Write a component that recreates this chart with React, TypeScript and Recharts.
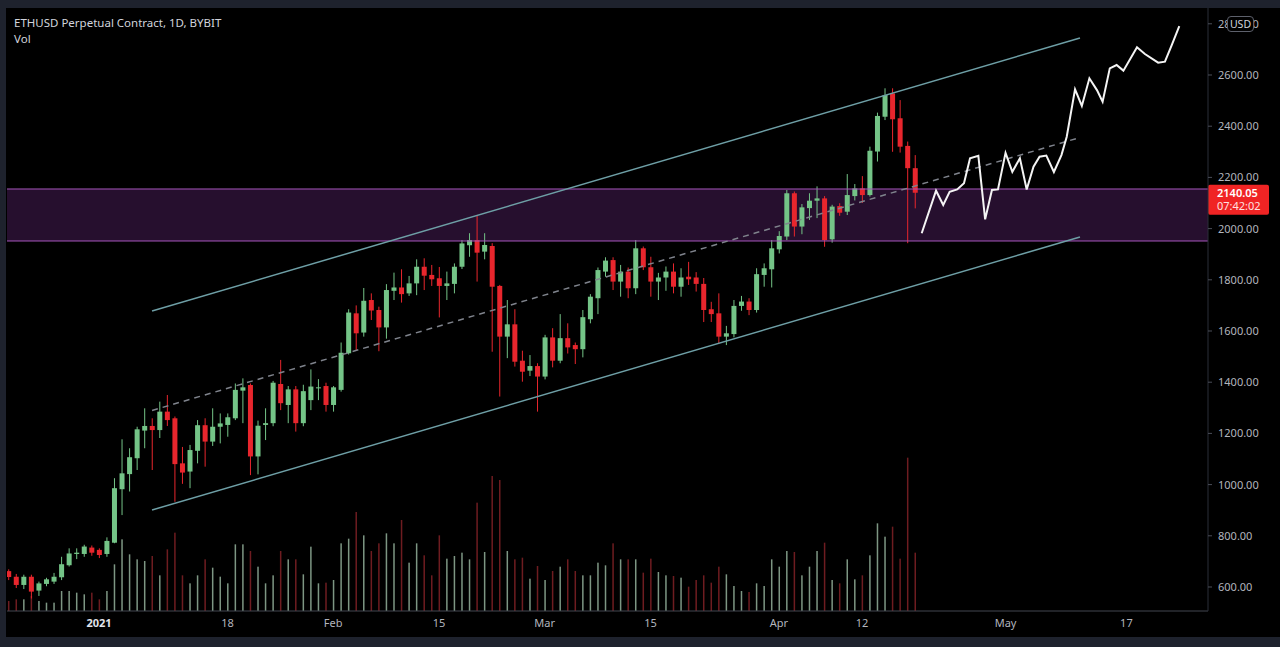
import { ComposedChart, Bar, Line, XAxis, YAxis, ReferenceLine, ReferenceArea } from 'recharts';

// day index 0 = 1 Jan 2021, candles start on 20 Dec 2020
const FIRST_DAY = -12;

const OPEN = [
  662, 640, 608, 640, 586, 612, 621, 638, 685, 729, 729, 754,
  745, 729, 773, 982, 1041, 1103, 1211, 1229, 1213, 1285, 1259, 1083, 1051, 1132, 1232, 1168, 1226, 1233,
  1259, 1367, 1389, 1110, 1233, 1240, 1393, 1311, 1372, 1240, 1330, 1376, 1385,
  1311, 1370, 1513, 1669, 1594, 1721, 1682, 1614, 1757, 1770, 1747, 1786, 1851, 1819,
  1806, 1776, 1784, 1851, 1935, 1955, 1910, 1932, 1776, 1578, 1626, 1484, 1445, 1463,
  1422, 1575, 1484, 1572, 1545, 1529, 1646, 1728, 1832, 1877, 1793, 1832, 1767, 1923,
  1849, 1793, 1809, 1832, 1773, 1812, 1809, 1784, 1685, 1669, 1578, 1588, 1698, 1715, 1682, 1819, 1841,
  1919, 1969, 2138, 2008, 2080, 2109, 2118, 1958, 2088, 2066, 2127, 2157, 2131, 2301, 2437, 2528, 2431, 2323, 2236,
];
const HIGH = [
  669, 651, 648, 648, 621, 636, 655, 718, 751, 751, 765, 762,
  751, 794, 1025, 1177, 1142, 1226, 1298, 1259, 1324, 1350, 1266, 1147, 1155, 1252, 1259, 1298, 1278, 1278,
  1395, 1415, 1395, 1250, 1298, 1405, 1487, 1385, 1385, 1390, 1450, 1412, 1398,
  1385, 1555, 1685, 1700, 1768, 1747, 1695, 1783, 1828, 1841, 1815, 1880, 1884, 1858,
  1850, 1832, 1864, 1955, 1982, 2053, 1982, 1943, 1780, 1721, 1685, 1523, 1506, 1474,
  1585, 1611, 1666, 1630, 1555, 1682, 1744, 1848, 1888, 1888, 1858, 1848, 1955, 1930,
  1890, 1827, 1852, 1864, 1845, 1870, 1830, 1807, 1714, 1747, 1620, 1721, 1737, 1728, 1845, 1864, 1955,
  1990, 2151, 2145, 2096, 2138, 2165, 2127, 2093, 2099, 2213, 2174, 2205, 2320, 2453, 2548, 2548, 2502, 2340, 2287,
];
const LOW = [
  627, 596, 592, 555, 565, 603, 612, 627, 680, 709, 718, 722,
  713, 718, 771, 881, 973, 1057, 1142, 1057, 1182, 1229, 933, 1003, 986, 1083, 1070, 1151, 1161, 1187,
  1252, 1240, 1037, 1040, 1174, 1228, 1291, 1240, 1207, 1228, 1291, 1330, 1285,
  1285, 1363, 1508, 1526, 1578, 1643, 1521, 1570, 1721, 1711, 1737, 1740, 1760, 1776,
  1653, 1721, 1747, 1842, 1890, 1793, 1880, 1519, 1344, 1494, 1461, 1402, 1424, 1285,
  1411, 1458, 1474, 1512, 1471, 1497, 1630, 1666, 1812, 1760, 1734, 1728, 1744, 1838,
  1734, 1721, 1757, 1747, 1734, 1780, 1754, 1635, 1635, 1552, 1545, 1575, 1679, 1662, 1672, 1773, 1770,
  1903, 1955, 1969, 1978, 2034, 2041, 1929, 1945, 2050, 2053, 2110, 2100, 2125, 2262, 2424, 2300, 2297, 1943, 2079,
];
const CLOSE = [
  639, 608, 640, 582, 614, 630, 640, 689, 731, 734, 758, 734,
  725, 780, 986, 1044, 1107, 1216, 1229, 1213, 1285, 1252, 1080, 1047, 1135, 1232, 1168, 1226, 1239, 1263,
  1370, 1380, 1110, 1230, 1240, 1398, 1318, 1372, 1240, 1365, 1383, 1380, 1311,
  1380, 1515, 1672, 1591, 1718, 1680, 1614, 1760, 1770, 1744, 1786, 1851, 1816, 1802,
  1776, 1786, 1851, 1942, 1955, 1906, 1936, 1773, 1578, 1626, 1480, 1441, 1463, 1422,
  1575, 1484, 1572, 1536, 1529, 1654, 1734, 1838, 1875, 1793, 1832, 1767, 1923, 1849,
  1793, 1809, 1832, 1773, 1809, 1802, 1784, 1682, 1666, 1578, 1591, 1698, 1715, 1682, 1822, 1845, 1923,
  1971, 2138, 2008, 2083, 2109, 2118, 1955, 2086, 2062, 2131, 2157, 2131, 2304, 2440, 2522, 2427, 2320, 2236, 2140.05,
];
const VOLUME = [
  30, 35, 35, 45, 30, 25, 25, 60, 60, 55, 50, 55,
  35, 60, 140, 215, 170, 155, 150, 165, 107, 185, 235, 107, 83, 107, 155, 130, 103, 83,
  200, 200, 180, 133, 83, 107, 180, 155, 155, 110, 193, 83, 85,
  93, 203, 217, 297, 227, 180, 203, 233, 203, 273, 145, 203, 167, 107,
  227, 157, 165, 175, 155, 325, 177, 405, 393, 180, 155, 160, 97, 135,
  93, 120, 133, 155, 120, 107, 107, 145, 137, 203, 155, 155, 155, 115,
  157, 117, 107, 105, 100, 73, 93, 107, 85, 133, 110, 75, 60, 57, 83, 75, 155,
  133, 180, 177, 107, 133, 180, 205, 93, 83, 155, 95, 107, 167, 263, 223, 253, 157, 460, 175,
];

const TICK_DAYS = [0, 17, 31, 45, 59, 73, 90, 101, 120, 136];
const TICK_LABELS = ['2021', '18', 'Feb', '15', 'Mar', '15', 'Apr', '12', 'May', '17'];
const PRICE_TICKS = [600, 800, 1000, 1200, 1400, 1600, 1800, 2000, 2200, 2400, 2600, 2800];

// hand drawn projection after the last candle
const PROJ_DAYS = [
  108.9, 110.8, 111.75, 112.6, 113.6, 114.5, 115.3, 116.4, 117.3, 118.2, 119.0, 120.0,
  120.9, 121.9, 122.8, 123.7, 124.5, 125.4, 126.4, 127.4, 128.1, 129.2, 130.1, 131.1,
  132.1, 132.85, 133.8, 134.7, 135.6, 137.4, 138.45, 140.2, 141.1, 142.0, 143.0,
];
const PROJ_PRICES = [
  1982, 2148, 2092, 2144, 2153, 2177, 2275, 2284, 2036, 2151, 2153, 2296,
  2222, 2275, 2153, 2242, 2281, 2285, 2221, 2287, 2359, 2544, 2479, 2587,
  2541, 2496, 2626, 2639, 2617, 2708, 2682, 2648, 2652, 2717, 2791,
];

// regression channel (start / end day, price at each end)
const CHANNEL_DAYS = [7.02, 129.85];
const CHANNEL_UPPER = [1678, 2744.5];
const CHANNEL_MID = [1289.5, 2355.9];
const CHANNEL_LOWER = [900.8, 1967.2];

const ZONE = [1951.6, 2154.7];
const LAST_PRICE = 2140.05;
const COUNTDOWN = '07:42:02';

const GREEN = '#74c487';
const RED = '#e8262d';
const VOL_GREEN = '#7d9683';
const VOL_RED = '#6e1c20';
const AXIS_TEXT = '#b2b5be';
const FONT = '"Noto Sans", "DejaVu Sans", sans-serif';

const candles = OPEN.map((o, i) => ({
  d: FIRST_DAY + i,
  o,
  h: HIGH[i],
  l: LOW[i],
  c: CLOSE[i],
  v: VOLUME[i],
}));

const projection = PROJ_DAYS.map((d, i) => ({ d, p: PROJ_PRICES[i] }));

function seg(values: number[]) {
  return [
    { x: CHANNEL_DAYS[0], y: values[0] },
    { x: CHANNEL_DAYS[1], y: values[1] },
  ];
}

function Candle(props: any) {
  const { x, y, width, height, payload } = props;
  if (!payload || height == null || isNaN(y)) return null;
  const cx = x + width / 2;
  const top = Math.min(y, y + height);
  const span = Math.abs(height);
  const k = payload.h > payload.l ? span / (payload.h - payload.l) : 0;
  const yo = top + (payload.h - payload.o) * k;
  const yc = top + (payload.h - payload.c) * k;
  const color = payload.c >= payload.o ? GREEN : RED;
  return (
    <g>
      <line x1={cx} x2={cx} y1={top} y2={top + span} stroke={color} strokeWidth={1} />
      <rect x={cx - 2.5} y={Math.min(yo, yc)} width={5} height={Math.max(1, Math.abs(yc - yo))} fill={color} />
    </g>
  );
}

function VolumeBar(props: any) {
  const { x, y, width, height, payload } = props;
  if (!payload || !height) return null;
  const cx = x + width / 2;
  return (
    <rect
      x={cx - 0.75}
      y={y}
      width={1.5}
      height={height}
      fill={payload.c >= payload.o ? VOL_GREEN : VOL_RED}
    />
  );
}

function DateTick(props: any) {
  const { x, y, payload } = props;
  const label = TICK_LABELS[TICK_DAYS.indexOf(payload.value)];
  const isYear = label === '2021';
  return (
    <text
      x={x}
      y={y}
      dy="0.71em"
      textAnchor="middle"
      fontFamily={FONT}
      fontSize={11}
      fontWeight={isYear ? 700 : 400}
      fill={isYear ? '#e0e3eb' : AXIS_TEXT}
    >
      {label}
    </text>
  );
}

function LastPriceLabel(props: any) {
  const vb = props.viewBox;
  if (!vb) return null;
  const left = vb.x + vb.width;
  return (
    <g>
      <rect x={left} y={vb.y - 8} width={61} height={30} rx={2} fill="#f02424" />
      <text x={left + 9} y={vb.y + 4} fontFamily={FONT} fontSize={11} fontWeight={600} fill="#ffffff">
        {LAST_PRICE.toFixed(2)}
      </text>
      <text x={left + 9} y={vb.y + 17} fontFamily={FONT} fontSize={11} fill="#ffe0e0">
        {COUNTDOWN}
      </text>
    </g>
  );
}

export default function App() {
  return (
    <div
      style={{
        position: 'absolute',
        left: 0,
        top: 0,
        width: 1280,
        height: 647,
        background: '#000',
        overflow: 'hidden',
        fontFamily: FONT,
      }}
    >
      <ComposedChart
        width={1280}
        height={647}
        data={candles}
        margin={{ top: 8, right: 10, bottom: 10, left: 7 }}
        barGap={-2}
      >
        <XAxis
          dataKey="d"
          type="number"
          domain={[-12.18, 146.8]}
          allowDataOverflow
          ticks={TICK_DAYS}
          interval={0}
          height={26}
          tickLine={false}
          axisLine={{ stroke: '#434651' }}
          tick={<DateTick />}
        />
        <YAxis
          yAxisId="price"
          orientation="right"
          domain={[506.25, 2861.7]}
          allowDataOverflow
          ticks={PRICE_TICKS}
          interval={0}
          width={62}
          tickSize={4}
          tickMargin={6}
          tickLine={{ stroke: '#4a4e59' }}
          axisLine={{ stroke: '#2a2e39' }}
          tick={{ fill: AXIS_TEXT, fontSize: 11, fontFamily: FONT }}
          tickFormatter={(v: number) => v.toFixed(2)}
        />
        <YAxis yAxisId="vol" hide domain={[0, 1809]} allowDataOverflow />

        <ReferenceArea
          yAxisId="price"
          y1={ZONE[0]}
          y2={ZONE[1]}
          fill="#6d2b85"
          fillOpacity={0.35}
          stroke="none"
        />

        <Bar
          yAxisId="vol"
          dataKey="v"
          barSize={2}
          shape={<VolumeBar />}
          isAnimationActive={false}
        />
        <Bar
          yAxisId="price"
          dataKey={(e: any) => [e.l, e.h]}
          barSize={2}
          shape={<Candle />}
          isAnimationActive={false}
        />

        <ReferenceLine yAxisId="price" y={ZONE[1]} stroke="#a656bb" strokeWidth={1} />
        <ReferenceLine yAxisId="price" y={ZONE[0]} stroke="#a656bb" strokeWidth={1} />

        <ReferenceLine yAxisId="price" segment={seg(CHANNEL_UPPER)} stroke="#6e9fa6" strokeWidth={1.5} ifOverflow="visible" />
        <ReferenceLine yAxisId="price" segment={seg(CHANNEL_LOWER)} stroke="#6e9fa6" strokeWidth={1.5} ifOverflow="visible" />
        <ReferenceLine
          yAxisId="price"
          segment={seg(CHANNEL_MID)}
          stroke="#7f838c"
          strokeWidth={1.5}
          strokeDasharray="6 5"
          ifOverflow="visible"
        />

        <Line
          yAxisId="price"
          data={projection}
          dataKey="p"
          type="linear"
          stroke="#f4f4f4"
          strokeWidth={2}
          dot={false}
          activeDot={false}
          isAnimationActive={false}
        />

        <ReferenceLine yAxisId="price" y={LAST_PRICE} stroke="none" label={<LastPriceLabel />} />
      </ComposedChart>

      <div
        style={{
          position: 'absolute',
          left: 14,
          top: 15,
          color: '#d1d4dc',
          fontSize: 11.5,
          lineHeight: '16px',
        }}
      >
        <div>ETHUSD Perpetual Contract, 1D, BYBIT</div>
        <div>Vol</div>
      </div>

      <div
        style={{
          position: 'absolute',
          left: 1227,
          top: 16,
          width: 25,
          height: 14,
          border: '1px solid #5d606b',
          borderRadius: 4,
          background: '#000',
          color: '#d1d4dc',
          fontSize: 10.5,
          lineHeight: '14px',
          textAlign: 'center',
        }}
      >
        USD
      </div>

      <div style={{ position: 'absolute', left: 0, top: 0, width: 1280, height: 8, background: '#1e222d' }} />
      <div style={{ position: 'absolute', left: 0, top: 0, width: 6, height: 647, background: '#1e222d' }} />
      <div style={{ position: 'absolute', left: 0, top: 637, width: 1280, height: 10, background: '#1e222d' }} />
    </div>
  );
}
